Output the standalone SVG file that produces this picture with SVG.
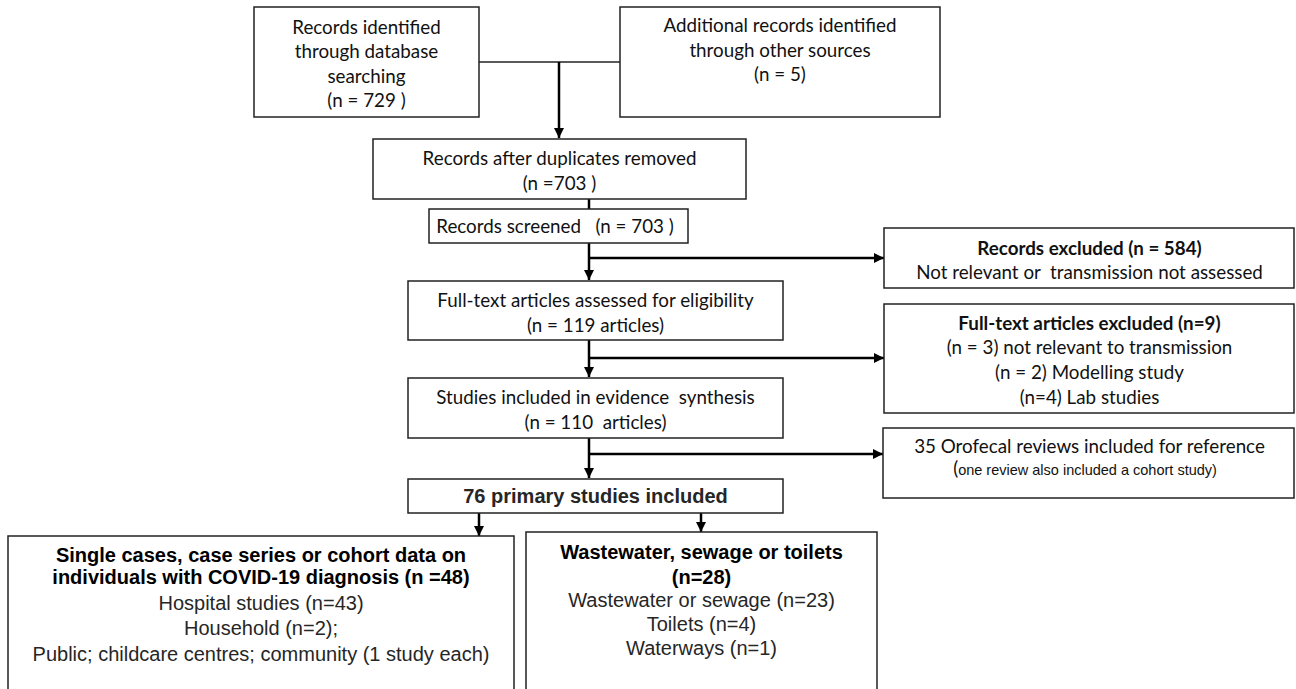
<svg xmlns="http://www.w3.org/2000/svg" width="1296" height="689" viewBox="0 0 1296 689">
<defs>
<style>
.box{fill:#fff;stroke:#222;stroke-width:1.5}
.c{font-family:Lato,"Liberation Sans",sans-serif;font-size:18.8px;fill:#111;text-anchor:middle;white-space:pre}
.cb{font-weight:bold}
.a{font-family:"Liberation Sans",Arial,sans-serif;font-size:20px;fill:#262626;text-anchor:middle;white-space:pre}
.ab{font-weight:bold;fill:#000}
.sm{font-family:"Liberation Sans Narrow","Liberation Sans",Arial,sans-serif;font-size:14.5px}
.ln{stroke:#000;stroke-width:2.5;fill:none}
.thin{stroke:#222;stroke-width:1.3;fill:none}
</style>
<marker id="ah" markerUnits="userSpaceOnUse" markerWidth="10" markerHeight="10" refX="10" refY="5" orient="auto">
<path d="M0,0 L10,5 L0,10 z" fill="#000"/>
</marker>
</defs>
<rect width="1296" height="689" fill="#fff"/>
<g id="connectors">
<line class="thin" x1="479" y1="62" x2="620" y2="62"/>
<line class="ln" x1="559" y1="62" x2="559" y2="138" marker-end="url(#ah)"/>
<line class="ln" x1="589" y1="199" x2="589" y2="209"/>
<line class="ln" x1="589" y1="243" x2="589" y2="280" marker-end="url(#ah)"/>
<line class="ln" x1="589" y1="258" x2="884" y2="258" marker-end="url(#ah)"/>
<line class="ln" x1="589" y1="340" x2="589" y2="377" marker-end="url(#ah)"/>
<line class="ln" x1="589" y1="358" x2="884" y2="358" marker-end="url(#ah)"/>
<line class="ln" x1="589" y1="438" x2="589" y2="478" marker-end="url(#ah)"/>
<line class="ln" x1="589" y1="454" x2="883" y2="454" marker-end="url(#ah)"/>
<line class="ln" x1="479" y1="513" x2="479" y2="536" marker-end="url(#ah)"/>
<line class="ln" x1="701" y1="509" x2="701" y2="532" marker-end="url(#ah)"/>
</g>
<g id="n1">
<rect class="box" x="254" y="7" width="225" height="110"/>
<text class="c" x="366.5" y="33.5">Records identified</text>
<text class="c" x="366.5" y="58">through database</text>
<text class="c" x="366.5" y="82.5">searching</text>
<text class="c" x="366.5" y="107">(n = 729 )</text>
</g>
<g id="n2">
<rect class="box" x="620" y="7" width="320" height="110"/>
<text class="c" x="780" y="32">Additional records identified</text>
<text class="c" x="780" y="57">through other sources</text>
<text class="c" x="780" y="81">(n = 5)</text>
</g>
<g id="n3">
<rect class="box" x="373" y="139" width="373" height="60"/>
<text class="c" x="559.5" y="165">Records after duplicates removed</text>
<text class="c" x="559.5" y="190">(n =703 )</text>
</g>
<g id="n4">
<rect class="box" x="429" y="209" width="259" height="34"/>
<text class="c" x="555" y="233">Records screened   (n = 703 )</text>
</g>
<g id="n5">
<rect class="box" x="408" y="281" width="375" height="59"/>
<text class="c" x="595.5" y="307">Full-text articles assessed for eligibility</text>
<text class="c" x="595.5" y="332">(n = 119 articles)</text>
</g>
<g id="n6">
<rect class="box" x="408" y="378" width="375" height="60"/>
<text class="c" x="595.5" y="404">Studies included in evidence  synthesis</text>
<text class="c" x="595.5" y="429">(n = 110  articles)</text>
</g>
<g id="n7">
<rect class="box" x="884" y="228" width="410" height="60"/>
<text class="c cb" x="1089.5" y="255">Records excluded (n = 584)</text>
<text class="c" x="1089.5" y="279">Not relevant or  transmission not assessed</text>
</g>
<g id="n8">
<rect class="box" x="884" y="304" width="410" height="109"/>
<text class="c cb" x="1089.5" y="330">Full-text articles excluded (n=9)</text>
<text class="c" x="1089.5" y="354">(n = 3) not relevant to transmission</text>
<text class="c" x="1089.5" y="379">(n = 2) Modelling study</text>
<text class="c" x="1089.5" y="404">(n=4) Lab studies</text>
</g>
<g id="n9">
<rect class="box" x="883" y="428" width="411" height="70"/>
<text class="c" x="1089.5" y="453">35 Orofecal reviews included for reference</text>
<text class="c" x="1085" y="475">(<tspan class="sm">one review also included a cohort study)</tspan></text>
</g>
<g id="n10">
<rect class="box" x="408" y="479" width="375" height="34"/>
<text class="a ab" x="595.5" y="503" style="fill:#262626">76 primary studies included</text>
</g>
<g id="n11">
<rect class="box" x="8" y="536" width="506" height="170"/>
<text class="a ab" x="261" y="562">Single cases, case series or cohort data on</text>
<text class="a ab" x="261" y="584">individuals with COVID-19 diagnosis (n =48)</text>
<text class="a" x="261" y="610">Hospital studies (n=43)</text>
<text class="a" x="261" y="635">Household (n=2);</text>
<text class="a" x="261" y="661">Public; childcare centres; community (1 study each)</text>
</g>
<g id="n12">
<rect class="box" x="526" y="532" width="351" height="174"/>
<text class="a ab" x="701.5" y="559">Wastewater, sewage or toilets</text>
<text class="a ab" x="701.5" y="584">(n=28)</text>
<text class="a" x="701.5" y="607">Wastewater or sewage (n=23)</text>
<text class="a" x="701.5" y="631">Toilets (n=4)</text>
<text class="a" x="701.5" y="655">Waterways (n=1)</text>
</g>
</svg>
